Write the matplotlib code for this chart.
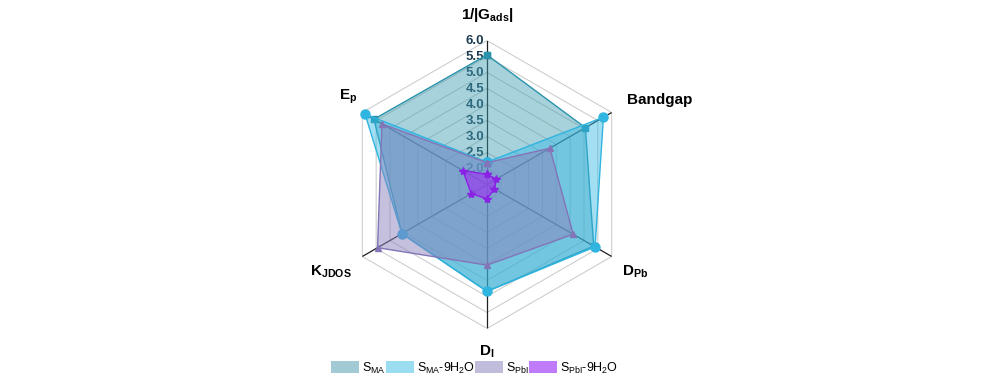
import numpy as np
import matplotlib
matplotlib.use("Agg")
import matplotlib.pyplot as plt
from matplotlib.patches import Patch

plt.rcParams['font.family'] = ['Liberation Sans', 'DejaVu Sans']
plt.rcParams['mathtext.fontset'] = 'custom'
plt.rcParams['mathtext.rm'] = 'Liberation Sans'
plt.rcParams['mathtext.it'] = 'Liberation Sans'
plt.rcParams['mathtext.bf'] = 'Liberation Sans:bold'

# ---- data ----
axis_labels = [r'$\mathbf{1/|G_{ads}|}$', 'Bandgap', r'$\mathbf{D_{Pb}}$',
               r'$\mathbf{D_{I}}$', r'$\mathbf{K_{JDOS}}$', r'$\mathbf{E_{p}}$']
series_names = [r'S$_{\mathrm{MA}}$', r'S$_{\mathrm{MA}}$-9H$_2$O',
                r'S$_{\mathrm{PbI}}$', r'S$_{\mathrm{PbI}}$-9H$_2$O']
s_ma = [5.55, 5.05, 5.35, 4.84, 4.57, 5.58]
s_ma_9h2o = [2.2, 5.7, 5.4, 4.84, 4.57, 5.9]
s_pbi = [2.18, 3.77, 4.61, 4.02, 5.45, 5.29]
s_pbi_9h2o = [1.82, 1.84, 1.77, 1.95, 2.07, 2.37]
r_ticks = [2.0, 2.5, 3.0, 3.5, 4.0, 4.5, 5.0, 5.5, 6.0]
r_min, r_max = 1.5, 6.0

# ---- styles ----
fill_colors = ['#3e9db0', '#32b9e6', '#8a82bd', '#9a35f0']
fill_alphas = [0.45, 0.45, 0.5, 0.65]
edge_colors = ['#2a93ab', '#30b4e0', '#8474b8', '#8a22e6']
markers = ['s', 'o', '^', '*']
msizes = [5, 6.5, 4.5, 6]
legend_colors = ['#a2cad4', '#9adcf0', '#bfbcdc', '#c07cf8']

fig = plt.figure(figsize=(10, 3.88), dpi=100)
cx, cy, rad = 487 / 1000, 1 - 184.5 / 388, 144
ax = fig.add_axes([cx - rad / 1000, cy - rad / 388, 2 * rad / 1000, 2 * rad / 388],
                  projection='polar')
ax.set_theta_zero_location('N')
ax.set_theta_direction(-1)
ax.set_ylim(r_min, r_max)
ax.set_xticks([])
ax.set_yticks([])
ax.grid(False)
ax.spines['polar'].set_visible(False)
ax.patch.set_alpha(0)

n = len(axis_labels)
theta = np.deg2rad(np.arange(n) * 360 / n)
theta_c = np.append(theta, theta[0])

# hexagonal grid rings
for r in r_ticks:
    ax.plot(theta_c, [r] * (n + 1), color='#c8c8c8', lw=0.7, zorder=0.5)
# spokes
for t in theta:
    ax.plot([t, t], [r_min, r_max], color='#202020', lw=0.9, zorder=0.6)

# radial tick labels
for v in r_ticks:
    ax.annotate(f'{v:.1f}', xy=(0, v), xytext=(-2, 0), textcoords='offset points',
                ha='right', va='center', fontsize=9.5, fontweight='bold',
                color='#1e3d52', zorder=0.8)

all_series = [s_ma, s_ma_9h2o, s_pbi, s_pbi_9h2o]
for i, vals in enumerate(all_series):
    vc = np.append(vals, vals[0])
    ax.fill(theta_c, vc, color=fill_colors[i], alpha=fill_alphas[i], lw=0, zorder=2 + i)
    ax.plot(theta_c, vc, color=edge_colors[i], lw=1.0, marker=markers[i],
            ms=msizes[i], zorder=2.5 + i, clip_on=False)

# axis labels
label_pos = [(487, 15), (660, 100), (635, 272), (487, 352), (331, 272), (348, 97)]
for lab, (px, py) in zip(axis_labels, label_pos):
    fig.text(px / 1000, 1 - py / 388, lab, ha='center', va='center',
             fontsize=11, fontweight='bold', color='black')

handles = [Patch(facecolor=c, edgecolor='none') for c in legend_colors]
fig.legend(handles, series_names, loc='center', bbox_to_anchor=(0.4745, 1 - 368 / 388),
           ncol=4, frameon=False, fontsize=9, handlelength=2.25, handleheight=1.1,
           handletextpad=0.25, columnspacing=0.0, borderaxespad=0, borderpad=0)

fig.savefig('out.png', dpi=100)
